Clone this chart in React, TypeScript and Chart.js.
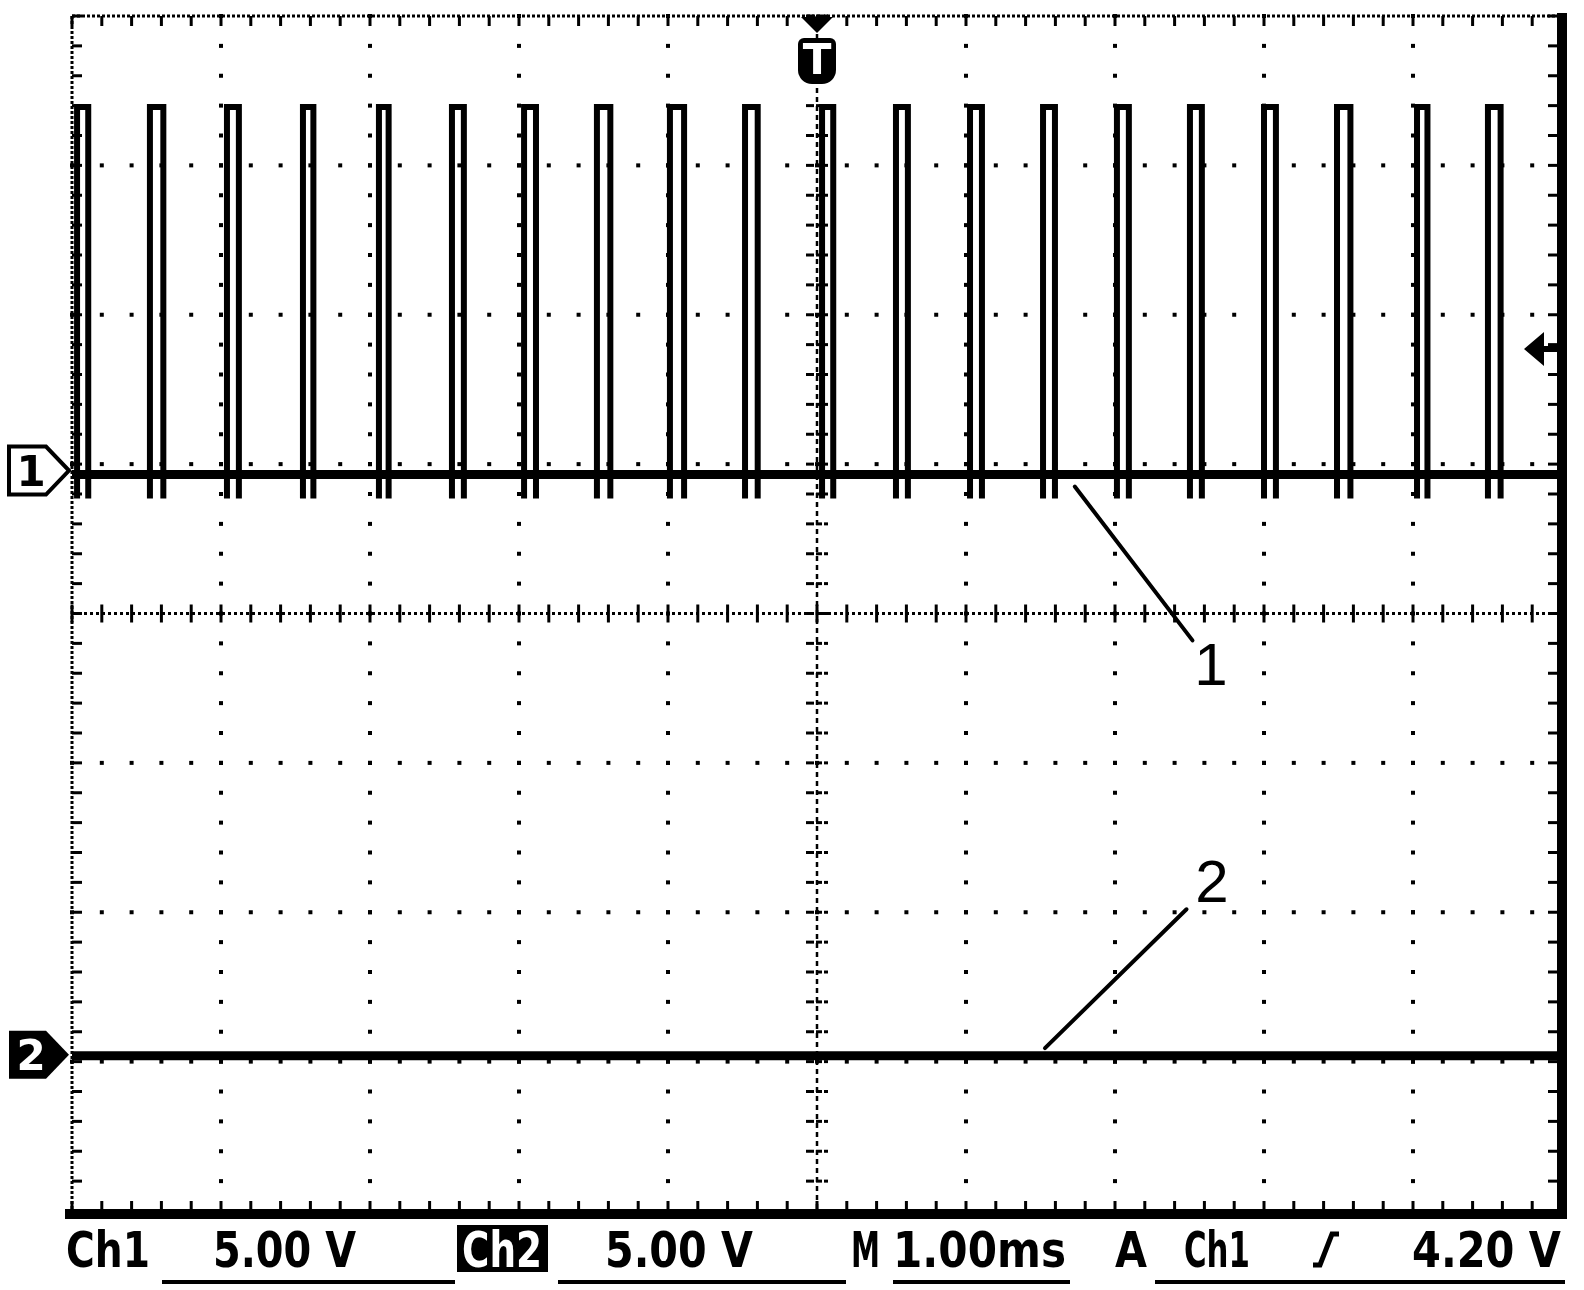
import React, { useEffect, useLayoutEffect, useRef } from "react";
import { Chart, registerables } from "chart.js";

Chart.register(...registerables);

// ---------------- data ----------------
const timeAxisMs = [0, 10]; // 10 divisions of 1.00 ms
const divAxis = [-4, 4]; // 8 vertical divisions
const minorPerDiv = 5;
const voltsPerDiv = 5; // both channels 5.00 V/div
const ch1OffsetDiv = 0.93;
const ch2OffsetDiv = -2.96;

const ch1RiseMs = [
  0.034, 0.523, 1.04, 1.55, 2.06, 2.55, 3.034, 3.523, 4.013, 4.517,
  5.034, 5.53, 6.027, 6.517, 7.013, 7.503, 8.0, 8.49, 9.027, 9.503,
];
const ch1WidthMs = [
  0.075, 0.09, 0.08, 0.07, 0.065, 0.08, 0.08, 0.09, 0.095, 0.085,
  0.075, 0.08, 0.08, 0.08, 0.08, 0.08, 0.08, 0.09, 0.07, 0.085,
];
const ch1HighV = 12.3;
const ch1LowV = 0;
const ch1EdgeDipV = -0.8;
const ch2LevelV = [0, 0];

const triggerTimeMs = 5.0;
const triggerLevelV = 4.2;

const annotationLabels = ["1", "2"];
const annotationFromMs = [6.73, 6.53];
const annotationFromDiv = [0.85, -2.91];
const annotationToMs = [7.52, 7.48];
const annotationToDiv = [-0.18, -1.98];
const annotationTextMs = [7.644, 7.651];
const annotationTextDiv = [-0.478, -1.93];

const statusTexts = ["Ch1", "5.00 V", "Ch2", "5.00 V", "M", "1.00ms", "A", "Ch1", "4.20 V"];

// ---------------- layout (positions / styles) ----------------
const W = 1584;
const H = 1290;
const statusLayout = [
  { left: 66, width: 84 },
  { left: 213, width: 143 },
  { left: 462, width: 80, inverse: true },
  { left: 605, width: 148 },
  { left: 851, width: 29 },
  { left: 893, width: 173 },
  { left: 1115, width: 32 },
  { left: 1184, width: 66 },
  { left: 1412, width: 149 },
];
const underlines = [
  { left: 162, width: 293 },
  { left: 558, width: 288 },
  { left: 893, width: 177 },
  { left: 1155, width: 410 },
];

// ---------------- build series ----------------
function buildCh1() {
  const pts: { x: number; y: number }[] = [{ x: timeAxisMs[0], y: ch1LowV }];
  ch1RiseMs.forEach((tr, i) => {
    const tf = tr + ch1WidthMs[i];
    pts.push({ x: tr, y: ch1LowV });
    pts.push({ x: tr, y: ch1EdgeDipV });
    pts.push({ x: tr, y: ch1HighV });
    pts.push({ x: tf, y: ch1HighV });
    pts.push({ x: tf, y: ch1EdgeDipV });
    pts.push({ x: tf, y: ch1LowV });
  });
  pts.push({ x: timeAxisMs[1], y: ch1LowV });
  return pts;
}

const scopePlugin = {
  id: "scope",
  beforeDatasetsDraw(chart: any) {
    const { ctx, chartArea: a, scales } = chart;
    const xs = scales.x;
    const ys = scales.yDiv;
    const step = 1 / minorPerDiv;
    const minorX: number[] = [];
    for (let v = timeAxisMs[0]; v <= timeAxisMs[1] + 1e-9; v += step) minorX.push(xs.getPixelForValue(v));
    const minorY: number[] = [];
    for (let v = divAxis[0]; v <= divAxis[1] + 1e-9; v += step) minorY.push(ys.getPixelForValue(v));
    ctx.save();
    ctx.fillStyle = "#000";
    ctx.strokeStyle = "#000";
    // interior vertical grid lines
    for (let d = timeAxisMs[0] + 1; d < timeAxisMs[1]; d++) {
      if (d === (timeAxisMs[0] + timeAxisMs[1]) / 2) continue;
      const px = xs.getPixelForValue(d);
      minorY.forEach((py) => ctx.fillRect(px - 2, py - 2, 4, 4));
    }
    // interior horizontal grid lines
    for (let d = divAxis[0] + 1; d < divAxis[1]; d++) {
      if (d === 0) continue;
      const py = ys.getPixelForValue(d);
      minorX.forEach((px) => ctx.fillRect(px - 2, py - 2, 4, 4));
    }
    // center vertical
    const cx = xs.getPixelForValue((timeAxisMs[0] + timeAxisMs[1]) / 2);
    ctx.setLineDash([5, 4]);
    ctx.lineWidth = 2.5;
    ctx.beginPath();
    ctx.moveTo(cx, a.top);
    ctx.lineTo(cx, a.bottom);
    ctx.stroke();
    minorY.forEach((py) => {
      ctx.fillRect(cx - 11, py - 1.5, 8, 3);
      ctx.fillRect(cx - 1, py - 1.5, 6, 3);
      ctx.fillRect(cx + 7, py - 1.5, 4, 3);
    });
    // center horizontal
    const cy = ys.getPixelForValue(0);
    ctx.setLineDash([3, 3]);
    ctx.lineWidth = 3;
    ctx.beginPath();
    ctx.moveTo(a.left, cy);
    ctx.lineTo(a.right, cy);
    ctx.stroke();
    minorX.forEach((px) => ctx.fillRect(px - 1.5, cy - 9, 3, 18));
    // top border
    ctx.setLineDash([3, 2]);
    ctx.beginPath();
    ctx.moveTo(a.left, a.top);
    ctx.lineTo(a.right, a.top);
    ctx.stroke();
    minorX.forEach((px) => ctx.fillRect(px - 1.5, a.top, 3, 10));
    // left border
    ctx.beginPath();
    ctx.moveTo(a.left, a.top);
    ctx.lineTo(a.left, a.bottom);
    ctx.stroke();
    minorY.forEach((py) => ctx.fillRect(a.left, py - 1.5, 10, 3));
    ctx.setLineDash([]);
    // right border (solid thick)
    ctx.fillRect(a.right - 5, a.top - 3, 10, a.bottom - a.top + 11);
    minorY.forEach((py) => ctx.fillRect(a.right - 14, py - 1.5, 9, 3));
    // bottom border (solid thick)
    ctx.fillRect(a.left - 7, a.bottom - 2, a.right + 5 - (a.left - 7), 10);
    minorX.forEach((px) => ctx.fillRect(px - 1.5, a.bottom - 10, 3, 8));
    ctx.restore();
  },
  afterDatasetsDraw(chart: any) {
    const { ctx, chartArea: a, scales } = chart;
    const xs = scales.x;
    const ys = scales.yDiv;
    ctx.save();
    ctx.fillStyle = "#000";
    ctx.strokeStyle = "#000";

    // channel markers on the left
    const drawMarker = (y: number, label: string, filled: boolean) => {
      ctx.beginPath();
      ctx.moveTo(9, y - 24);
      ctx.lineTo(46, y - 24);
      ctx.lineTo(69, y);
      ctx.lineTo(46, y + 24);
      ctx.lineTo(9, y + 24);
      ctx.closePath();
      if (filled) {
        ctx.fillStyle = "#000";
        ctx.fill();
      } else {
        ctx.fillStyle = "#fff";
        ctx.fill();
        ctx.lineWidth = 4;
        ctx.stroke();
      }
      ctx.fillStyle = filled ? "#fff" : "#000";
      ctx.font = 'bold 42px "DejaVu Sans"';
      ctx.textAlign = "center";
      ctx.textBaseline = "alphabetic";
      ctx.fillText(label, 31, y + 15);
      ctx.fillStyle = "#000";
    };
    drawMarker(scales.y1.getPixelForValue(ch1LowV) - 4, "1", false);
    drawMarker(scales.y2.getPixelForValue(ch2LevelV[0]) - 1, "2", true);

    // trigger position marker
    const tx = xs.getPixelForValue(triggerTimeMs);
    ctx.beginPath();
    ctx.moveTo(tx - 16, a.top + 1);
    ctx.lineTo(tx + 16, a.top + 1);
    ctx.lineTo(tx, a.top + 17);
    ctx.closePath();
    ctx.fill();
    ctx.beginPath();
    ctx.roundRect(tx - 19, a.top + 22, 38, 46, [6, 6, 14, 14]);
    ctx.fill();
    ctx.fillStyle = "#fff";
    ctx.font = 'bold 42px "DejaVu Sans"';
    ctx.textAlign = "center";
    ctx.fillText("T", tx, a.top + 58);
    ctx.fillStyle = "#000";

    // trigger level arrow on the right
    const ty = scales.y1.getPixelForValue(triggerLevelV);
    const r = a.right - 5;
    ctx.beginPath();
    ctx.moveTo(r - 33, ty);
    ctx.lineTo(r - 13, ty - 17);
    ctx.lineTo(r - 13, ty - 3);
    ctx.lineTo(r, ty - 3);
    ctx.lineTo(r, ty + 3);
    ctx.lineTo(r - 13, ty + 3);
    ctx.lineTo(r - 13, ty + 17);
    ctx.closePath();
    ctx.fill();

    // annotation leader lines and numbers
    ctx.lineWidth = 4;
    ctx.lineCap = "round";
    annotationLabels.forEach((lab, i) => {
      ctx.beginPath();
      ctx.moveTo(xs.getPixelForValue(annotationFromMs[i]), ys.getPixelForValue(annotationFromDiv[i]));
      ctx.lineTo(xs.getPixelForValue(annotationToMs[i]), ys.getPixelForValue(annotationToDiv[i]));
      ctx.stroke();
      ctx.font = '60px "Liberation Sans"';
      ctx.textAlign = "center";
      ctx.textBaseline = "alphabetic";
      ctx.fillText(lab, xs.getPixelForValue(annotationTextMs[i]), ys.getPixelForValue(annotationTextDiv[i]));
    });
    ctx.restore();
  },
};

function StatusText({ text, left, width, inverse }: { text: string; left: number; width: number; inverse?: boolean }) {
  const ref = useRef<HTMLSpanElement>(null);
  useLayoutEffect(() => {
    const el = ref.current;
    if (!el) return;
    el.style.transform = "none";
    const w = el.getBoundingClientRect().width;
    if (w > 0) el.style.transform = `scaleX(${width / w})`;
  }, [text, width]);
  return (
    <span
      ref={ref}
      style={{
        position: "absolute",
        left,
        top: 1225,
        whiteSpace: "pre",
        fontFamily: '"DejaVu Sans", sans-serif',
        fontWeight: "bold",
        fontSize: 50,
        lineHeight: "50px",
        transformOrigin: "left top",
        color: inverse ? "#fff" : "#000",
      }}
    >
      {text}
    </span>
  );
}

export default function App() {
  const canvasRef = useRef<HTMLCanvasElement>(null);

  useEffect(() => {
    const canvas = canvasRef.current;
    if (!canvas) return;
    const ch1Min = (divAxis[0] - ch1OffsetDiv) * voltsPerDiv;
    const ch1Max = (divAxis[1] - ch1OffsetDiv) * voltsPerDiv;
    const ch2Min = (divAxis[0] - ch2OffsetDiv) * voltsPerDiv;
    const ch2Max = (divAxis[1] - ch2OffsetDiv) * voltsPerDiv;
    const chart = new Chart(canvas, {
      type: "line",
      data: {
        datasets: [
          {
            label: "Ch1 baseline",
            data: [
              { x: timeAxisMs[0], y: ch1LowV },
              { x: timeAxisMs[1], y: ch1LowV },
            ],
            yAxisID: "y1",
            borderColor: "#000",
            borderWidth: 9,
            pointRadius: 0,
            tension: 0,
            fill: false,
          },
          {
            label: "Ch1",
            data: buildCh1(),
            yAxisID: "y1",
            borderColor: "#000",
            borderWidth: 6,
            pointRadius: 0,
            tension: 0,
            fill: false,
            borderJoinStyle: "miter",
          },
          {
            label: "Ch2",
            data: [
              { x: timeAxisMs[0], y: ch2LevelV[0] },
              { x: timeAxisMs[1], y: ch2LevelV[1] },
            ],
            yAxisID: "y2",
            borderColor: "#000",
            borderWidth: 9,
            pointRadius: 0,
            tension: 0,
            fill: false,
          },
        ],
      },
      options: {
        responsive: false,
        devicePixelRatio: 1,
        animation: false,
        events: [],
        layout: { padding: { left: 72, right: 22, top: 16, bottom: 79 } },
        plugins: { legend: { display: false }, tooltip: { enabled: false }, title: { display: false } },
        scales: {
          x: { type: "linear", min: timeAxisMs[0], max: timeAxisMs[1], display: false },
          yDiv: { type: "linear", axis: "y", min: divAxis[0], max: divAxis[1], display: false },
          y1: { type: "linear", axis: "y", min: ch1Min, max: ch1Max, display: false },
          y2: { type: "linear", axis: "y", min: ch2Min, max: ch2Max, display: false },
        },
      } as any,
      plugins: [scopePlugin],
    });
    return () => chart.destroy();
  }, []);

  return (
    <div style={{ position: "absolute", left: 0, top: 0, width: W, height: H, background: "#fff", overflow: "hidden" }}>
      <canvas ref={canvasRef} width={W} height={H} style={{ position: "absolute", left: 0, top: 0, width: W, height: H }} />
      <div style={{ position: "absolute", left: 457, top: 1225, width: 91, height: 47, background: "#000" }} />
      {statusTexts.map((t, i) => (
        <StatusText key={i} text={t} left={statusLayout[i].left} width={statusLayout[i].width} inverse={statusLayout[i].inverse} />
      ))}
      {underlines.map((u, i) => (
        <div key={"u" + i} style={{ position: "absolute", left: u.left, top: 1280, width: u.width, height: 4, background: "#000" }} />
      ))}
      <svg width={30} height={38} style={{ position: "absolute", left: 1311, top: 1230 }}>
        <polyline points="2,35 9,35 21,4 28,4" fill="none" stroke="#000" strokeWidth={5} strokeLinejoin="miter" />
      </svg>
    </div>
  );
}
